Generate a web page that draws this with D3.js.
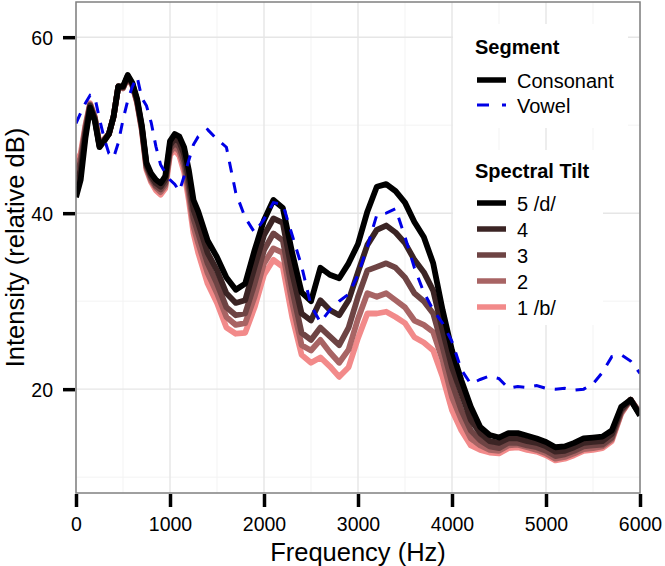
<!DOCTYPE html>
<html>
<head>
<meta charset="utf-8">
<script src="https://cdn.jsdelivr.net/npm/d3@7"></script>
<style>
  body { margin: 0; background: #fff; }
  text { font-family: "Liberation Sans", Arial, sans-serif; }
</style>
</head>
<body>
<div id="main"></div>
<script>
// frequency grid (Hz), shared by every series
const freq = [0,50,100,150,200,250,300,350,400,450,500,550,600,650,700,750,800,850,900,950,
  1000,1050,1100,1150,1200,1250,1300,1400,1500,1600,1700,1800,1900,2000,2100,2200,2300,2400,
  2500,2600,2700,2800,2900,3000,3100,3200,3300,3400,3500,3600,3700,3800,3900,4000,4100,4200,
  4300,4400,4500,4600,4700,4800,4900,5000,5100,5200,5300,5400,5500,5600,5700,5800,5900,6000];

// consonant spectra, one per spectral tilt step (relative dB)
const tilt5 = [41.8,43.8,48.5,52.0,50.5,47.5,48.2,49.0,51.0,54.4,54.4,55.7,54.8,53.0,50.0,45.7,44.5,43.8,43.4,44.2,
  48.2,49.0,48.7,47.5,44.9,41.5,40.2,36.9,35.0,32.7,31.3,32.0,35.8,39.2,41.5,40.6,35.5,31.0,
  30.0,33.8,33.0,32.6,34.3,36.5,40.2,43.0,43.3,42.5,41.2,39.0,37.3,34.3,29.0,24.4,21.0,18.0,
  15.7,14.8,14.5,15.0,15.0,14.7,14.4,14.0,13.4,13.5,13.9,14.4,14.5,14.6,15.3,18.0,18.8,17.0];
const tilt4 = [43.2,44.9,49.0,52.2,50.7,47.6,48.3,49.0,51.0,54.4,54.3,55.6,54.7,52.8,49.8,45.5,44.2,43.4,43.0,43.8,
  47.7,48.5,48.1,46.7,43.9,40.4,38.9,35.5,33.5,30.9,29.8,30.1,33.9,37.5,39.4,38.9,33.2,28.6,
  27.8,30.1,29.0,28.4,30.1,33.3,36.4,38.1,38.6,37.8,36.6,34.7,33.3,31.2,26.7,22.5,19.5,16.5,
  15.0,14.1,13.9,14.4,14.4,14.1,13.9,13.5,12.9,13.0,13.4,13.9,14.0,14.1,14.9,17.7,18.8,17.1];
const tilt3 = [44.4,45.8,49.5,52.3,50.8,47.7,48.3,49.0,51.0,54.4,54.3,55.5,54.6,52.7,49.7,45.3,44.0,43.1,42.7,43.4,
  47.3,48.0,47.5,45.9,43.0,39.4,37.7,34.3,32.0,29.3,28.4,28.6,32.0,35.8,37.7,36.9,31.3,26.4,
  25.6,27.0,26.0,25.0,27.0,30.5,33.5,33.9,34.3,33.8,32.7,30.9,30.0,28.6,24.8,20.7,17.6,15.3,
  14.2,13.5,13.3,13.9,13.9,13.6,13.4,13.0,12.4,12.6,13.0,13.5,13.6,13.7,14.5,17.5,18.8,17.2];
const tilt2 = [45.2,46.3,49.8,52.4,50.9,47.8,48.4,49.0,51.0,54.4,54.2,55.4,54.5,52.6,49.5,45.1,43.7,42.9,42.4,43.1,
  46.9,47.6,47.0,45.3,42.2,38.5,36.6,33.2,30.9,28.2,27.3,27.5,30.5,34.3,36.0,35.5,29.8,25.0,
  24.4,25.6,24.2,23.0,24.5,28.0,30.9,30.5,30.9,30.1,29.3,27.8,27.3,26.5,23.3,19.1,16.5,14.4,
  13.6,13.1,13.0,13.6,13.7,13.4,13.1,12.7,12.1,12.3,12.7,13.2,13.3,13.5,14.3,17.3,18.8,17.3];
const tilt1 = [45.8,46.8,50.0,52.5,51.0,47.8,48.4,49.0,51.0,54.4,54.2,55.4,54.5,52.5,49.4,44.9,43.5,42.6,42.1,42.8,
  46.6,47.2,46.5,44.7,41.5,37.7,35.5,32.0,29.8,27.0,26.3,26.4,29.3,33.0,34.7,33.9,28.2,23.9,
  23.0,23.6,22.6,21.4,22.5,25.8,28.6,28.6,28.8,28.2,27.5,25.9,25.3,24.4,21.4,17.6,15.3,13.6,
  13.1,12.8,12.7,13.3,13.4,13.1,12.9,12.5,11.9,12.1,12.5,13.0,13.1,13.3,14.1,17.2,18.8,17.3];

// vowel spectrum
const vowel = [50.2,51.4,52.5,53.4,53.2,50.7,48.5,46.8,46.3,48.0,50.6,52.8,54.4,55.5,53.1,52.2,50.3,47.6,45.5,44.6,
  43.8,43.3,42.5,44.2,46.0,47.8,48.7,49.5,48.4,47.5,42.3,39.5,37.8,39.3,41.2,41.0,37.5,34.0,
  29.5,27.6,29.0,30.0,30.8,33.0,36.2,39.8,40.0,40.5,37.3,33.8,31.0,29.0,27.5,25.4,22.2,20.6,
  21.1,21.5,21.2,20.1,20.3,20.2,20.4,20.1,20.0,20.1,19.9,20.0,20.6,21.9,23.7,23.9,23.2,21.8];

const tiltLabels = ["5 /d/", "4", "3", "2", "1 /b/"];
const tiltColors = ["#000000", "#3b2424", "#6e4444", "#a86464", "#f28a8a"];
const tiltSeries = [tilt5, tilt4, tilt3, tilt2, tilt1];
const segmentLabels = ["Consonant", "Vowel"];

const xTicks = [0, 1000, 2000, 3000, 4000, 5000, 6000];
const xMinor = [500, 1500, 2500, 3500, 4500, 5500];
const yTicks = [20, 40, 60];
const yMinor = [10, 30, 50];

const ctx = {width: 665, height: 566, left: 76, right: 640, top: 2, bottom: 493};

function createViz() {
  const svg = d3.select("#main").append("svg")
    .attr("width", ctx.width)
    .attr("height", ctx.height);

  const x = d3.scaleLinear().domain([0, 6000]).range([ctx.left, ctx.right]);
  const y = d3.scaleLinear().domain([8.2, 64]).range([ctx.bottom, ctx.top]);

  svg.append("defs").append("clipPath").attr("id", "panel")
    .append("rect")
    .attr("x", ctx.left).attr("y", ctx.top)
    .attr("width", ctx.right - ctx.left).attr("height", ctx.bottom - ctx.top);

  // grid
  const grid = svg.append("g");
  grid.selectAll(".xminor").data(xMinor).enter().append("line")
    .attr("x1", d => x(d)).attr("x2", d => x(d))
    .attr("y1", ctx.top).attr("y2", ctx.bottom)
    .attr("stroke", "#f3f3f3").attr("stroke-width", 1);
  grid.selectAll(".yminor").data(yMinor).enter().append("line")
    .attr("x1", ctx.left).attr("x2", ctx.right)
    .attr("y1", d => y(d)).attr("y2", d => y(d))
    .attr("stroke", "#f3f3f3").attr("stroke-width", 1);
  grid.selectAll(".xmajor").data(xTicks).enter().append("line")
    .attr("x1", d => x(d)).attr("x2", d => x(d))
    .attr("y1", ctx.top).attr("y2", ctx.bottom)
    .attr("stroke", "#e6e6e6").attr("stroke-width", 1.4);
  grid.selectAll(".ymajor").data(yTicks).enter().append("line")
    .attr("x1", ctx.left).attr("x2", ctx.right)
    .attr("y1", d => y(d)).attr("y2", d => y(d))
    .attr("stroke", "#e6e6e6").attr("stroke-width", 1.4);

  // legend backgrounds hide the grid
  svg.append("rect").attr("x", 453).attr("y", 24).attr("width", 175).attr("height", 104).attr("fill", "#fff");
  svg.append("rect").attr("x", 453).attr("y", 150).attr("width", 150).attr("height", 175).attr("fill", "#fff");

  const line = d3.line()
    .x((d, i) => x(freq[i]))
    .y(d => y(d));

  const lines = svg.append("g").attr("clip-path", "url(#panel)");
  // pink first, black last
  for (let k = tiltSeries.length - 1; k >= 0; k--) {
    lines.append("path")
      .attr("d", line(tiltSeries[k]))
      .attr("fill", "none")
      .attr("stroke", tiltColors[k])
      .attr("stroke-width", 5.8)
      .attr("stroke-linejoin", "round");
  }
  lines.append("path")
    .attr("d", line(vowel))
    .attr("fill", "none")
    .attr("stroke", "#0000e6")
    .attr("stroke-width", 3)
    .attr("stroke-dasharray", "11,10");

  // panel border
  svg.append("rect")
    .attr("x", ctx.left).attr("y", ctx.top)
    .attr("width", ctx.right - ctx.left).attr("height", ctx.bottom - ctx.top)
    .attr("fill", "none").attr("stroke", "#808080").attr("stroke-width", 1.5);

  // axes
  const yAxis = svg.append("g")
    .attr("transform", `translate(${ctx.left - 1},0)`)
    .call(d3.axisLeft(y).tickValues(yTicks).tickSize(12).tickFormat(d3.format("d")));
  const xAxis = svg.append("g")
    .attr("transform", `translate(0,${ctx.bottom + 1})`)
    .call(d3.axisBottom(x).tickValues(xTicks).tickSize(13).tickFormat(d3.format("d")));
  [xAxis, yAxis].forEach(a => {
    a.select(".domain").remove();
    a.selectAll(".tick line").attr("stroke", "#000").attr("stroke-width", 3.5);
    a.selectAll(".tick text").attr("fill", "#000").style("font-size", "19.5px");
  });
  yAxis.selectAll(".tick text").attr("x", -22).attr("dy", "0.36em");
  xAxis.selectAll(".tick text").attr("y", 37).attr("dy", 0);

  svg.append("text")
    .attr("x", (ctx.left + ctx.right) / 2).attr("y", 561)
    .attr("text-anchor", "middle")
    .style("font-size", "25.5px")
    .text("Frequency (Hz)");
  svg.append("text")
    .attr("transform", `translate(24,${(ctx.top + ctx.bottom) / 2}) rotate(-90)`)
    .attr("text-anchor", "middle")
    .style("font-size", "25.5px")
    .text("Intensity (relative dB)");

  // legends
  const leg = svg.append("g");
  leg.append("text").attr("x", 475).attr("y", 54)
    .style("font-size", "20px").style("font-weight", "bold").text("Segment");
  leg.selectAll(".seg").data(segmentLabels).enter().append("g")
    .each(function(d, i) {
      const g = d3.select(this);
      const cy = 80 + i * 25;
      g.append("line").attr("x1", 477).attr("x2", 506).attr("y1", cy).attr("y2", cy)
        .attr("stroke", i === 0 ? "#000" : "#0000e6")
        .attr("stroke-width", i === 0 ? 5.5 : 3)
        .attr("stroke-dasharray", i === 0 ? null : "12,13");
      g.append("text").attr("x", 517).attr("y", cy + 7.5)
        .style("font-size", "20px").text(d);
    });

  leg.append("text").attr("x", 475).attr("y", 178)
    .style("font-size", "20px").style("font-weight", "bold").text("Spectral Tilt");
  leg.selectAll(".tilt").data(tiltLabels).enter().append("g")
    .each(function(d, i) {
      const g = d3.select(this);
      const cy = 203 + i * 26;
      g.append("line").attr("x1", 477).attr("x2", 506).attr("y1", cy).attr("y2", cy)
        .attr("stroke", tiltColors[i]).attr("stroke-width", 5.5);
      g.append("text").attr("x", 517).attr("y", cy + 7.5)
        .style("font-size", "20px").text(d);
    });
}

createViz();
</script>
</body>
</html>
